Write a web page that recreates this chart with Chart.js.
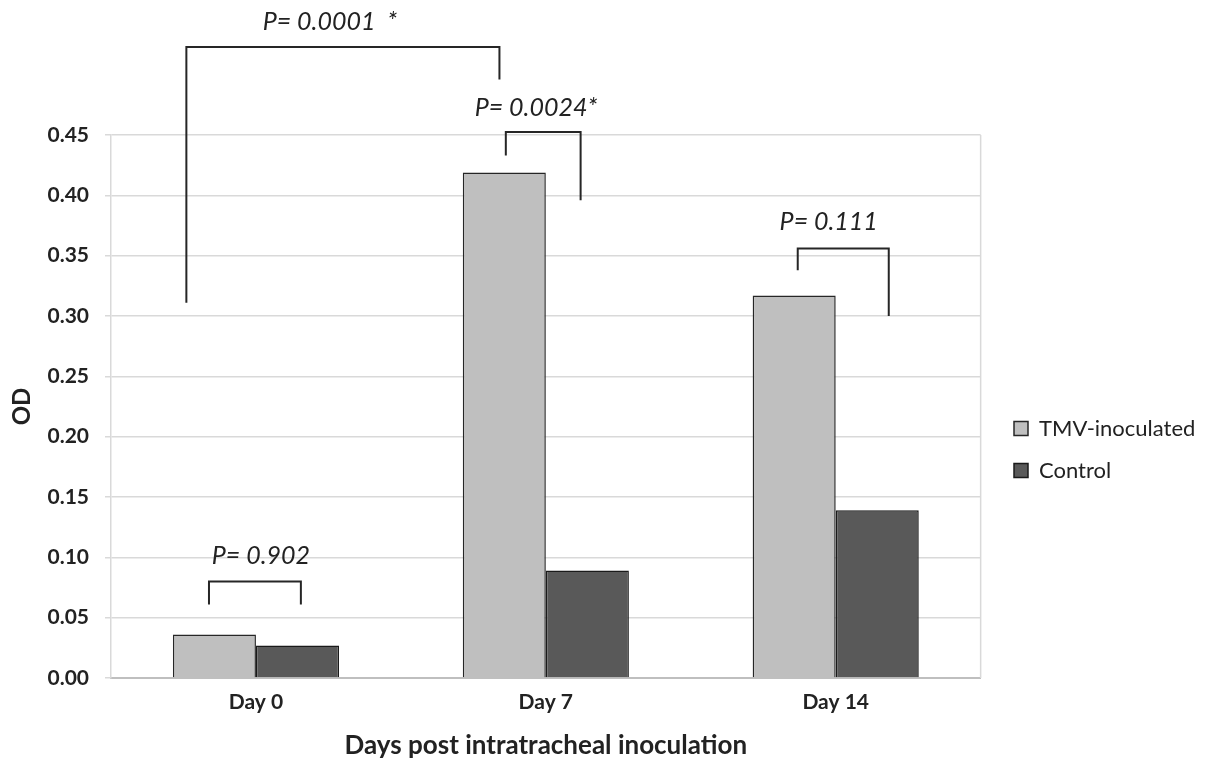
<!DOCTYPE html>
<html>
<head>
<meta charset="utf-8">
<script src="https://cdn.jsdelivr.net/npm/chart.js@4.4.0/dist/chart.umd.min.js"></script>
<style>
  body { margin: 0; background: #fff; }
  #wrap { width: 1205px; height: 761px; }
</style>
</head>
<body>
<div id="wrap"><canvas id="odChart" width="1205" height="761"></canvas></div>
<script>
// data
const days = ['Day 0', 'Day 7', 'Day 14'];
const tmvValues = [0.036, 0.419, 0.317];
const controlValues = [0.027, 0.089, 0.139];
const yTicks = [0, 0.05, 0.10, 0.15, 0.20, 0.25, 0.30, 0.35, 0.40, 0.45];

// p-value brackets (x in category units, y in OD units)
const pLabels = ['P= 0.0001  *', 'P= 0.0024*', 'P= 0.111', 'P= 0.902'];
const pLeft = [-0.24, 0.862, 1.869, -0.162];
const pRight = [0.84, 1.12, 2.183, 0.155];
const pTop = [0.523, 0.4525, 0.356, 0.080];
const pLeftEnd = [0.311, 0.433, 0.338, 0.061];
const pRightEnd = [0.496, 0.396, 0.300, 0.061];
const pTextX = [0.255, 0.966, 1.976, 0.017];
const pTextY = [0.5436, 0.4724, 0.3779, 0.1011];

Chart.defaults.font.family = 'Lato';
Chart.defaults.color = '#222';

// ブラケットとP値を描く
const bracketPlugin = {
    id: 'brackets',
    afterDraw(chart) {
        const ctx = chart.ctx;
        const x = chart.scales.x;
        const y = chart.scales.y;
        const area = chart.chartArea;
        ctx.save();
        // right border of the plot area
        ctx.strokeStyle = '#d9d9d9';
        ctx.lineWidth = 1.5;
        ctx.beginPath();
        ctx.moveTo(area.right, area.top);
        ctx.lineTo(area.right, area.bottom);
        ctx.stroke();

        ctx.strokeStyle = '#262626';
        ctx.lineWidth = 2;
        for (let i = 0; i < pLabels.length; i++) {
            const x1 = x.getPixelForValue(pLeft[i]);
            const x2 = x.getPixelForValue(pRight[i]);
            ctx.beginPath();
            ctx.moveTo(x1, y.getPixelForValue(pLeftEnd[i]));
            ctx.lineTo(x1, y.getPixelForValue(pTop[i]));
            ctx.lineTo(x2, y.getPixelForValue(pTop[i]));
            ctx.lineTo(x2, y.getPixelForValue(pRightEnd[i]));
            ctx.stroke();

            ctx.fillStyle = '#222';
            ctx.font = 'italic 25px Lato';
            ctx.textAlign = 'center';
            ctx.textBaseline = 'middle';
            ctx.fillText(pLabels[i], x.getPixelForValue(pTextX[i]), y.getPixelForValue(pTextY[i]));
        }
        ctx.restore();
    }
};

// 凡例の位置を調整
const legendShift = {
    id: 'legendShift',
    afterLayout(chart) {
        const lg = chart.legend;
        const dx = 994 - lg.left;
        lg.left += dx;
        lg.right += dx;
        lg.top += 43;
        lg.bottom += 43;
    }
};

const ctx = document.getElementById('odChart').getContext('2d');
const odChart = new Chart(ctx, {
    type: 'bar',
    data: {
        labels: days,
        datasets: [{
            label: 'TMV-inoculated',
            data: tmvValues,
            backgroundColor: '#bfbfbf',
            borderColor: '#262626',
            borderWidth: 1.5
        }, {
            label: 'Control',
            data: controlValues,
            backgroundColor: '#595959',
            borderColor: '#1a1a1a',
            borderWidth: 1.5
        }]
    },
    options: {
        responsive: false,
        animation: false,
        layout: {
            padding: { top: 135, right: 13, left: 0, bottom: 0 }
        },
        datasets: {
            bar: { categoryPercentage: 0.573, barPercentage: 1.0 }
        },
        plugins: {
            tooltip: { enabled: false },
            legend: {
                position: 'right',
                fullSize: false,
                labels: {
                    boxWidth: 14,
                    boxHeight: 14,
                    padding: 20,
                    color: '#222',
                    font: { size: 22 }
                }
            }
        },
        scales: {
            x: {
                grid: { display: false, drawTicks: false, tickLength: 0 },
                border: { color: '#bfbfbf', width: 2 },
                ticks: { font: { size: 21, weight: 'bold' }, padding: 12 },
                title: {
                    display: true,
                    text: 'Days post intratracheal inoculation',
                    font: { size: 26, weight: 'bold' },
                    padding: { top: 10, bottom: 0 }
                },
                afterFit(scale) { scale.height = 83; }
            },
            y: {
                min: 0,
                max: 0.45,
                afterBuildTicks(scale) { scale.ticks = yTicks.map(v => ({ value: v })); },
                grid: { color: '#d9d9d9', lineWidth: 1.5, tickLength: 6 },
                border: { color: '#d9d9d9', width: 1.5 },
                ticks: {
                    font: { size: 21, weight: 'bold' },
                    padding: 16,
                    callback: v => v.toFixed(2)
                },
                title: {
                    display: true,
                    text: 'OD',
                    font: { size: 24, weight: 'bold' },
                    padding: { top: 8, bottom: 0 }
                },
                afterFit(scale) { scale.width = 111; }
            }
        }
    },
    plugins: [bracketPlugin, legendShift]
});
</script>
</body>
</html>
